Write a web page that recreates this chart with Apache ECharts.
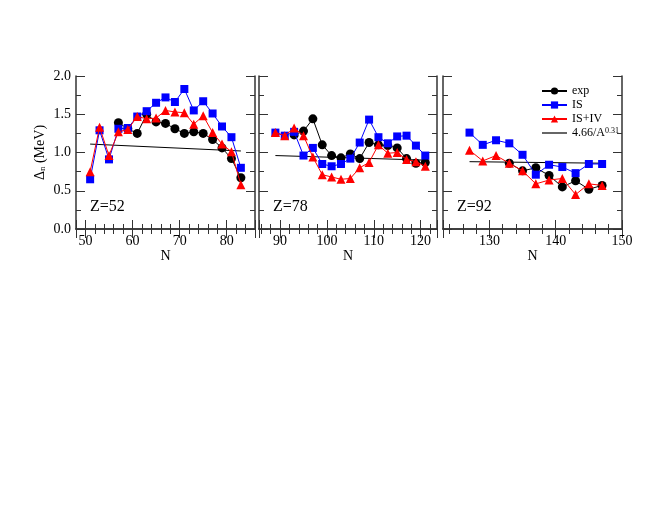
<!DOCTYPE html>
<html>
<head>
<meta charset="utf-8">
<script src="https://cdn.jsdelivr.net/npm/echarts@6/dist/echarts.min.js"></script>
<style>html,body{margin:0;background:#fff}#chart{width:660px;height:510px}</style>
</head>
<body>
<div id="chart"></div>
<script>
const serif = 'Liberation Serif, Times New Roman, serif';
const fitName = '4.66/A^0.31';

// Z=52
const n52 = [51, 53, 55, 57, 59, 61, 63, 65, 67, 69, 71, 73, 75, 77, 79, 81, 83];
const exp52 = [null, null, null, 1.39, 1.31, 1.25, 1.50, 1.40, 1.38, 1.31, 1.25, 1.27, 1.25, 1.17, 1.06, 0.92, 0.67];
const is52 = [0.65, 1.29, 0.91, 1.31, 1.32, 1.47, 1.54, 1.65, 1.72, 1.66, 1.83, 1.55, 1.67, 1.51, 1.34, 1.20, 0.80];
const isiv52 = [0.75, 1.33, 0.96, 1.27, 1.30, 1.47, 1.44, 1.45, 1.55, 1.53, 1.52, 1.37, 1.48, 1.26, 1.11, 1.01, 0.58];
const fitN52 = [51, 83];
const fit52 = [1.11, 1.02];

// Z=78
const n78 = [89, 91, 93, 95, 97, 99, 101, 103, 105, 107, 109, 111, 113, 115, 117, 119, 121];
const exp78 = [null, null, 1.23, 1.28, 1.44, 1.10, 0.96, 0.93, 0.98, 0.92, 1.13, 1.10, 1.09, 1.06, 0.92, 0.86, 0.87];
const is78 = [1.26, 1.22, 1.27, 0.96, 1.06, 0.85, 0.82, 0.85, 0.92, 1.13, 1.43, 1.20, 1.12, 1.21, 1.22, 1.09, 0.96];
const isiv78 = [1.26, 1.22, 1.32, 1.22, 0.94, 0.71, 0.68, 0.65, 0.66, 0.80, 0.87, 1.10, 0.99, 1.00, 0.91, 0.88, 0.82];
const fitN78 = [89, 121];
const fit78 = [0.96, 0.90];

// Z=92
const n92 = [127, 129, 131, 133, 135, 137, 139, 141, 143, 145, 147];
const exp92 = [null, null, null, 0.86, 0.76, 0.80, 0.70, 0.55, 0.63, 0.52, 0.57];
const is92 = [1.26, 1.10, 1.16, 1.12, 0.97, 0.71, 0.84, 0.81, 0.73, 0.85, 0.85];
const isiv92 = [1.03, 0.89, 0.96, 0.86, 0.76, 0.59, 0.64, 0.66, 0.45, 0.59, 0.57];
const fitN92 = [127, 147];
const fit92 = [0.88, 0.86];

const panels = [
  { label: 'Z=52', left: 76, width: 179, min: 48, max: 86, split: 4, n: n52, exp: exp52, is: is52, isiv: isiv52, fn: fitN52, fit: fit52 },
  { label: 'Z=78', left: 259, width: 178, min: 85.5, max: 123.5, split: 4, n: n78, exp: exp78, is: is78, isiv: isiv78, fn: fitN78, fit: fit78 },
  { label: 'Z=92', left: 443, width: 179, min: 123, max: 150, split: 3, n: n92, exp: exp92, is: is92, isiv: isiv92, fn: fitN92, fit: fit92 }
];

function pairs(xs, ys) {
  const out = [];
  xs.forEach((x, i) => { if (ys[i] != null) out.push([x, ys[i]]); });
  return out;
}

const lineCol = '#333';
const grid = [], xAxis = [], yAxis = [], series = [], title = [];

panels.forEach((p, i) => {
  grid.push({ left: p.left, top: 76, width: p.width, height: 153 });
  const xBase = {
    type: 'value', gridIndex: i, min: p.min, max: p.max, splitNumber: p.split,
    axisLine: { lineStyle: { color: lineCol, width: 1.5 } },
    axisTick: { inside: true, length: 9, lineStyle: { color: lineCol } },
    minorTick: { show: true, splitNumber: 5, length: 5, lineStyle: { color: lineCol } },
    splitLine: { show: false }
  };
  xAxis.push(Object.assign({}, xBase, {
    position: 'bottom',
    name: 'N', nameLocation: 'middle', nameGap: 18,
    nameTextStyle: { fontFamily: serif, fontSize: 14, color: '#000' },
    axisLabel: {
      fontFamily: serif, fontSize: 14, color: '#000', margin: 5,
      formatter: v => (v % 10 === 0 ? String(v) : '')
    }
  }));
  xAxis.push(Object.assign({}, xBase, { position: 'top', axisLabel: { show: false } }));

  const yBase = {
    type: 'value', gridIndex: i, min: 0, max: 2, interval: 0.5,
    axisLine: { show: true, lineStyle: { color: lineCol, width: 1.5 } },
    axisTick: { show: true, inside: true, length: 9, lineStyle: { color: lineCol } },
    minorTick: { show: true, splitNumber: 2, length: 5, lineStyle: { color: lineCol } },
    splitLine: { show: false }
  };
  yAxis.push(Object.assign({}, yBase, {
    position: 'left',
    name: i === 0 ? 'Δ{sub|n} (MeV)' : '', nameLocation: 'middle', nameGap: 29, nameRotate: 90,
    nameTextStyle: {
      fontFamily: serif, fontSize: 14, color: '#000',
      rich: { sub: { fontFamily: serif, fontSize: 9, color: '#000', verticalAlign: 'bottom', padding: [5, 0, 0, 0] } }
    },
    axisLabel: {
      show: i === 0, fontFamily: serif, fontSize: 14, color: '#000', margin: 5,
      formatter: v => v.toFixed(1)
    }
  }));
  yAxis.push(Object.assign({}, yBase, { position: 'right', axisLabel: { show: false } }));

  const xi = i * 2, yi = i * 2;
  series.push({
    name: fitName, type: 'line', xAxisIndex: xi, yAxisIndex: yi, z: 1,
    data: pairs(p.fn, p.fit), symbol: 'none', lineStyle: { color: '#000', width: 1 },
    itemStyle: { color: '#000' }
  });
  series.push({
    name: 'exp', type: 'line', xAxisIndex: xi, yAxisIndex: yi, z: 2,
    data: pairs(p.n, p.exp), symbol: 'circle', symbolSize: 9,
    lineStyle: { color: '#000', width: 1 }, itemStyle: { color: '#000' }
  });
  series.push({
    name: 'IS', type: 'line', xAxisIndex: xi, yAxisIndex: yi, z: 3,
    data: pairs(p.n, p.is), symbol: 'rect', symbolSize: 8,
    lineStyle: { color: '#0000ff', width: 1 }, itemStyle: { color: '#0000ff' }
  });
  series.push({
    name: 'IS+IV', type: 'line', xAxisIndex: xi, yAxisIndex: yi, z: 4,
    data: pairs(p.n, p.isiv), symbol: 'triangle', symbolSize: 9,
    lineStyle: { color: '#ff0000', width: 1 }, itemStyle: { color: '#ff0000' }
  });

  title.push({
    text: p.label, left: p.left + 9, top: 194,
    textStyle: { fontFamily: serif, fontSize: 16, fontWeight: 'normal', color: '#000' }
  });
});

const chart = echarts.init(document.getElementById('chart'));
chart.setOption({
  animation: false,
  backgroundColor: '#fff',
  title: title,
  legend: {
    data: ['exp', 'IS', 'IS+IV', { name: fitName, icon: 'path://M0,0h25v1.2h-25z' }],
    orient: 'vertical', left: 536, top: 80,
    itemWidth: 25, itemHeight: 9, itemGap: 2,
    textStyle: {
      fontFamily: serif, fontSize: 12, color: '#000', lineHeight: 12,
      rich: { sup: { fontFamily: serif, fontSize: 8, color: '#000', verticalAlign: 'top', lineHeight: 12 } }
    },
    formatter: name => (name === fitName ? '4.66/A{sup|0.31}' : name)
  },
  grid: grid,
  xAxis: xAxis,
  yAxis: yAxis,
  series: series
});
</script>
</body>
</html>
